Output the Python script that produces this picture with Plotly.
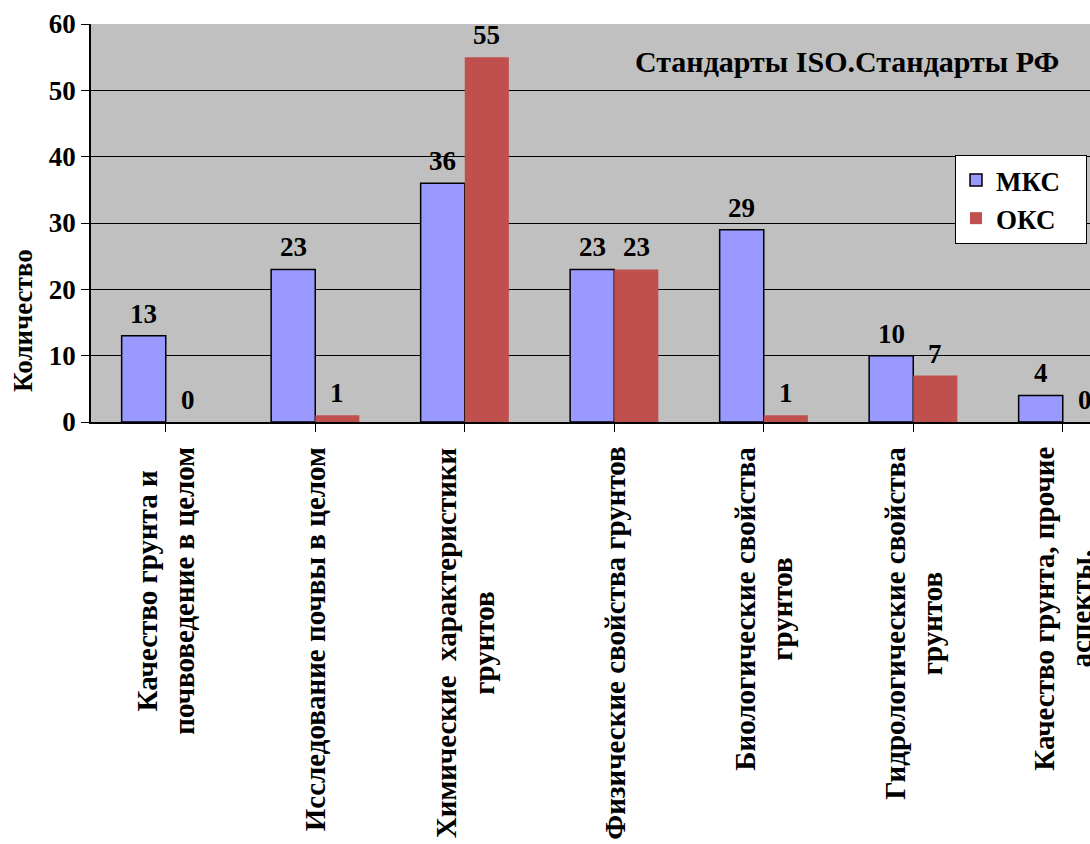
import plotly.graph_objects as go

# Categories of soil-related standards (one label line per list item)
categories = [
    ["Качество грунта и", "почвоведение в целом"],
    ["Исследование почвы в целом"],
    ["Химические  характеристики", "грунтов"],
    ["Физические свойства грунтов"],
    ["Биологические свойства", "грунтов"],
    ["Гидрологические свойства", "грунтов"],
    ["Качество грунта, прочие", "аспекты,"],
]
mks_values = [13, 23, 36, 23, 29, 10, 4]
oks_values = [0, 1, 55, 23, 1, 7, 0]
y_ticks = [0, 10, 20, 30, 40, 50, 60]

series_names = ["МКС", "ОКС"]
chart_title = "Стандарты ISO.Стандарты РФ"
y_title = "Количество"

FONT = "Liberation Serif, DejaVu Serif, serif"


def bold_font(size=27):
    return dict(family=FONT, size=size, color="black", weight="bold")


x_pos = list(range(len(categories)))
BAR_OFFSET = 0.147  # half of one bar's width in category units

fig = go.Figure()
fig.add_trace(go.Bar(
    x=x_pos, y=mks_values, name=series_names[0] + "\u00a0\u00a0\u00a0",
    marker=dict(color="#9999ff", line=dict(color="black", width=1.5)),
))
fig.add_trace(go.Bar(
    x=x_pos, y=oks_values, name=series_names[1] + "\u00a0\u00a0\u00a0",
    marker=dict(color="#c0504d", line=dict(color="#c0504d", width=0)),
))

# Plot area geometry in pixels
L, T, B_PX, W, H = 91, 24, 422, 1090, 844
plot_h = B_PX - T

annotations = []
# value labels above each bar
for offset, values in ((-BAR_OFFSET, mks_values), (BAR_OFFSET, oks_values)):
    for i, v in enumerate(values):
        annotations.append(dict(
            x=i + offset, xref="x", y=v, yref="y", text=str(v),
            showarrow=False, xanchor="center", yanchor="bottom", yshift=5,
            font=bold_font(27),
        ))

# rotated category labels below the axis
for i, lines in enumerate(categories):
    annotations.append(dict(
        x=i, xref="x", y=-(445 - B_PX) / plot_h, yref="paper",
        text="<br>".join(lines), textangle=-90, showarrow=False,
        xanchor="center", yanchor="top", align="center",
        font=bold_font(29),
    ))

annotations.append(dict(
    x=(847 - L) / (W - L), xref="paper", y=(B_PX - 62) / plot_h, yref="paper",
    text=chart_title, showarrow=False, xanchor="center", yanchor="middle",
    font=bold_font(30),
))
annotations.append(dict(
    x=-(91 - 23) / (W - L), xref="paper", y=(B_PX - 321) / plot_h, yref="paper",
    text=y_title, textangle=-90, showarrow=False,
    xanchor="center", yanchor="middle", font=bold_font(27),
))

fig.update_layout(
    width=W, height=H,
    margin=dict(l=L, r=0, t=T, b=H - B_PX, pad=0),
    font=bold_font(27),
    paper_bgcolor="white", plot_bgcolor="#c0c0c0",
    barmode="group", bargap=0.41, bargroupgap=0,
    showlegend=True,
    legend=dict(
        x=(955 - L) / (W - L), y=(B_PX - 155) / plot_h,
        xanchor="left", yanchor="top",
        bgcolor="white", bordercolor="black", borderwidth=1,
        font=bold_font(27), itemwidth=30, tracegroupgap=0,
    ),
    annotations=annotations,
)
fig.update_xaxes(
    range=[-0.5, -0.5 + (W - L) / 149.5],
    tickmode="array", tickvals=x_pos, showticklabels=False,
    ticks="outside", ticklen=8, tickcolor="black", tickson="boundaries",
    showline=True, linecolor="black", linewidth=1.5, showgrid=False,
    zeroline=False,
)
fig.update_yaxes(
    range=[0, 60], tickvals=y_ticks,
    ticks="outside", ticklen=8, tickcolor="black",
    tickfont=bold_font(27),
    showline=True, linecolor="black", linewidth=1.5,
    showgrid=True, gridcolor="black", gridwidth=1, zeroline=False,
)

fig.write_html("out.html")
